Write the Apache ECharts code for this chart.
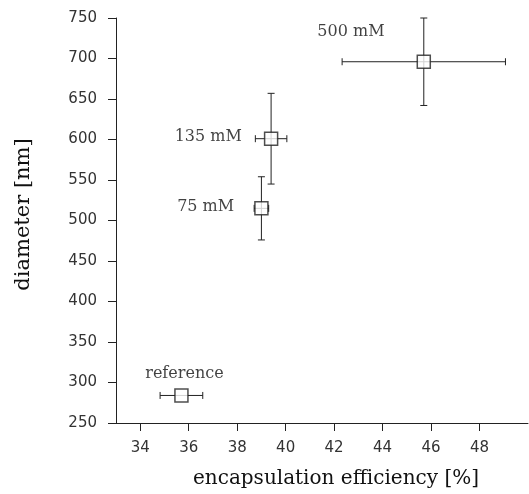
<!DOCTYPE html>
<html>
<head>
<meta charset="UTF-8">
<title>diameter vs encapsulation efficiency</title>
<script src="https://cdn.jsdelivr.net/npm/echarts@6/dist/echarts.min.js"></script>
<style>
  html, body { margin: 0; padding: 0; background: #fff; }
  #main { width: 529px; height: 494px; }
</style>
</head>
<body>
<div id="main"></div>
<script>
// values
var names = ['reference', '75 mM', '135 mM', '500 mM'];
var efficiency = [35.7, 39.0, 39.4, 45.7];
var efficiencyErr = [0.88, 0.3, 0.65, 3.37];
var diameter = [284, 515, 601, 696];
var diameterErr = [0, 39, 56, 54];
var xTicks = [34, 36, 38, 40, 42, 44, 46, 48];

var ink = '#222';
var serif = 'DejaVu Serif';

// where each point's name sits around its marker
var labelSpot = {
  'reference': { position: 'top', distance: 6, offset: [3, 0] },
  '75 mM': { position: 'left', distance: 20, offset: [0, -2] },
  '135 mM': { position: 'left', distance: 22, offset: [0, -2] },
  '500 mM': { position: 'left', distance: 32, offset: [0, -30] }
};

var errData = efficiency.map(function (x, i) {
  return [x, diameter[i], efficiencyErr[i], diameterErr[i]];
});

var pointData = efficiency.map(function (x, i) {
  var s = labelSpot[names[i]];
  return {
    name: names[i],
    value: [x, diameter[i]],
    label: { show: true, position: s.position, distance: s.distance, offset: s.offset }
  };
});

function renderErr(params, api) {
  var x = api.value(0), y = api.value(1);
  var ex = api.value(2), ey = api.value(3);
  var cap = 3.5;
  var style = { stroke: ink, lineWidth: 1 };
  var kids = [];
  if (ex > 0) {
    var l = api.coord([x - ex, y]), r = api.coord([x + ex, y]);
    kids.push({ type: 'line', shape: { x1: l[0], y1: l[1], x2: r[0], y2: r[1] }, style: style });
    kids.push({ type: 'line', shape: { x1: l[0], y1: l[1] - cap, x2: l[0], y2: l[1] + cap }, style: style });
    kids.push({ type: 'line', shape: { x1: r[0], y1: r[1] - cap, x2: r[0], y2: r[1] + cap }, style: style });
  }
  if (ey > 0) {
    var t = api.coord([x, y + ey]), b = api.coord([x, y - ey]);
    kids.push({ type: 'line', shape: { x1: t[0], y1: t[1], x2: b[0], y2: b[1] }, style: style });
    kids.push({ type: 'line', shape: { x1: t[0] - cap, y1: t[1], x2: t[0] + cap, y2: t[1] }, style: style });
    kids.push({ type: 'line', shape: { x1: b[0] - cap, y1: b[1], x2: b[0] + cap, y2: b[1] }, style: style });
  }
  return { type: 'group', children: kids };
}

var myChart = echarts.init(document.getElementById('main'));

myChart.setOption({
  animation: false,
  grid: { left: 116, right: 1, top: 18, bottom: 70 },
  xAxis: {
    type: 'value',
    min: 33,
    max: 50,
    name: 'encapsulation efficiency [%]',
    nameLocation: 'middle',
    nameGap: 46,
    nameTextStyle: { fontFamily: serif, fontSize: 20, color: '#111', padding: [0, 0, 0, 28] },
    splitLine: { show: false },
    axisLine: { show: true, onZero: false, lineStyle: { color: ink, width: 1 } },
    axisTick: { show: true, inside: false, length: 8, customValues: xTicks, lineStyle: { color: ink } },
    axisLabel: { margin: 18, customValues: xTicks, fontFamily: 'DejaVu Sans', fontSize: 15, color: '#333' }
  },
  yAxis: {
    type: 'value',
    min: 250,
    max: 750,
    interval: 50,
    name: 'diameter [nm]',
    nameLocation: 'middle',
    nameGap: 82,
    nameTextStyle: { fontFamily: serif, fontSize: 21, color: '#111', padding: [0, 0, 0, 12] },
    splitLine: { show: false },
    axisLine: { show: true, onZero: false, lineStyle: { color: ink, width: 1 } },
    axisTick: { show: true, inside: false, length: 8, lineStyle: { color: ink } },
    axisLabel: { margin: 19, fontFamily: 'DejaVu Sans', fontSize: 15, color: '#333' }
  },
  series: [{
    type: 'custom',
    renderItem: renderErr,
    data: errData,
    z: 1
  }, {
    type: 'scatter',
    symbol: 'rect',
    symbolSize: 13,
    itemStyle: { color: '#fff', borderColor: ink, borderWidth: 1.5 },
    label: { fontFamily: serif, fontSize: 16, color: '#111', formatter: '{b}' },
    data: pointData,
    z: 3
  }]
});
</script>
</body>
</html>
